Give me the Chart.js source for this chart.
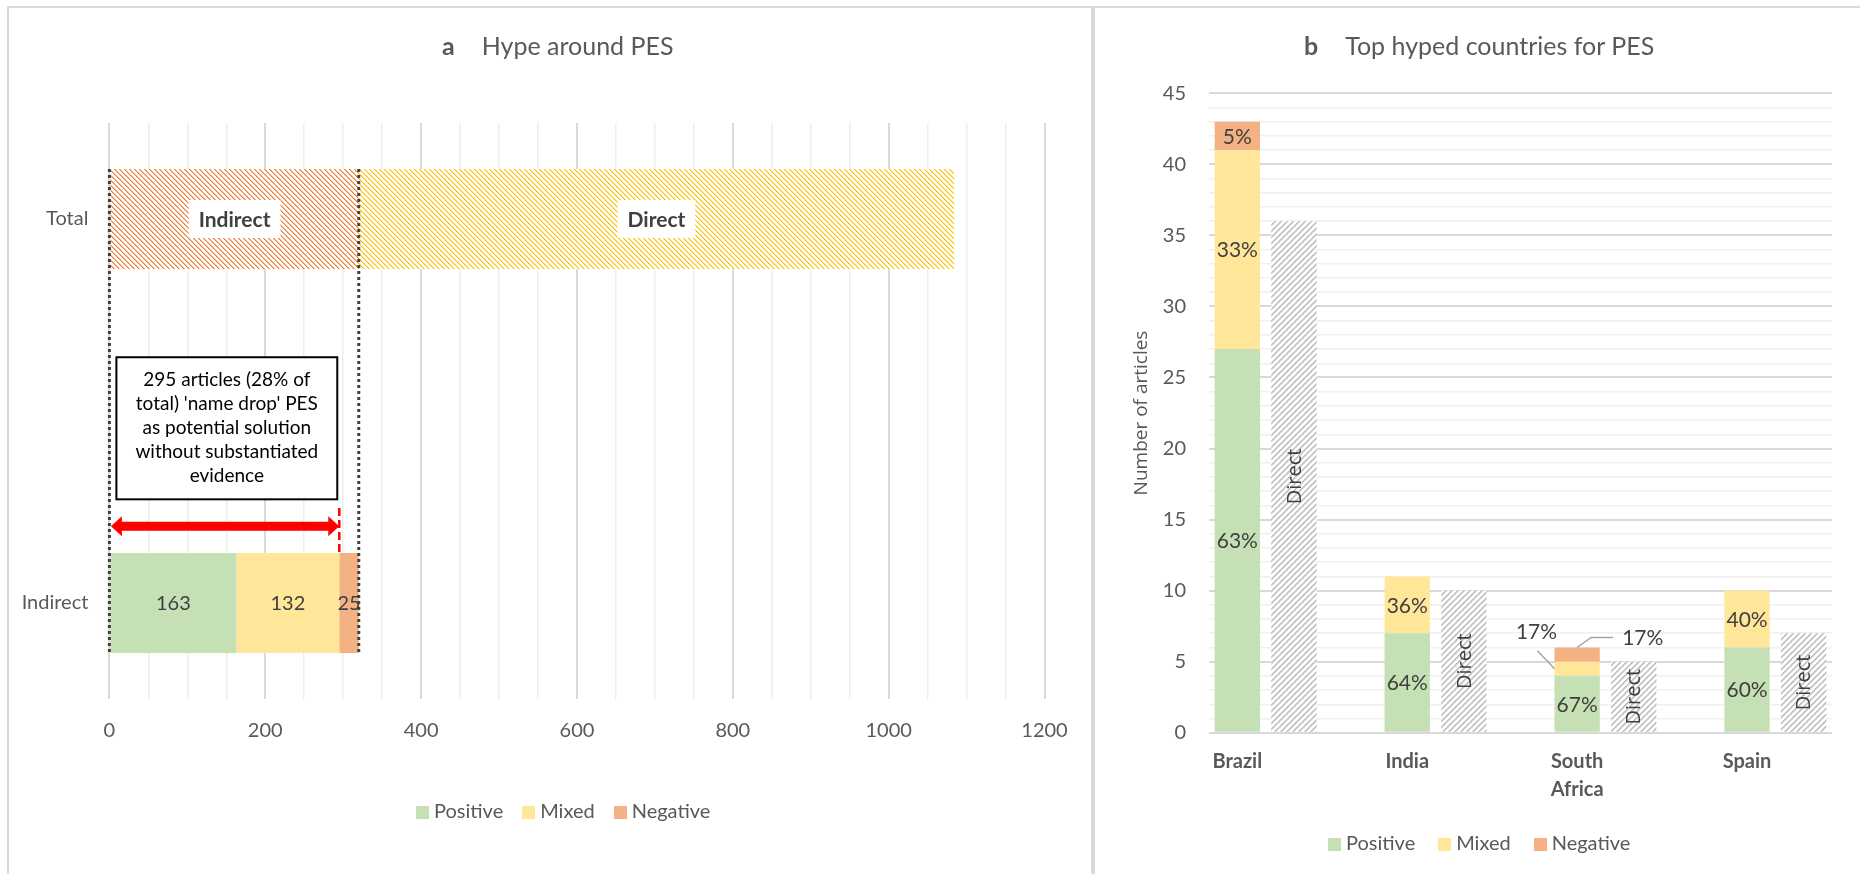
<!DOCTYPE html>
<html>
<head>
<meta charset="utf-8">
<script src="https://cdn.jsdelivr.net/npm/chart.js@4.4.1/dist/chart.umd.min.js"></script>
<style>
  html, body { margin: 0; padding: 0; background: #fff; }
  body { width: 1860px; height: 874px; position: relative; overflow: hidden; font-family: Lato, sans-serif; color: #595959; }
  .panel { position: absolute; top: 6px; height: 900px; border: 2px solid #DADADA; box-sizing: border-box; background: #fff; }
  #panelA { left: 7px; width: 1086px; }
  #panelB { left: 1093px; width: 800px; }
  canvas { position: absolute; top: 0; }
  #chartA { left: 0; }
  #chartB { left: 1093px; }
  .title { position: absolute; top: 30px; font-size: 25px; line-height: 30px; white-space: nowrap; }
  .title b { margin-right: 27px; }
  .legend { position: absolute; font-size: 20px; line-height: 24px; white-space: nowrap; }
  .legend span { display: inline-block; }
  .legend i { display: inline-block; width: 13px; height: 13px; margin-right: 5px; vertical-align: -1px; }
</style>
</head>
<body>
<div class="panel" id="panelA"></div>
<div class="panel" id="panelB"></div>
<canvas id="chartA" width="1092" height="874"></canvas>
<canvas id="chartB" width="767" height="874"></canvas>
<div class="title" style="left:442px"><b>a</b>Hype around PES</div>
<div class="title" style="left:1304px"><b>b</b>Top hyped countries for PES</div>
<div class="legend" id="legendA" style="left:416px; top:798px"></div>
<div class="legend" id="legendB" style="left:1328px; top:830px"></div>

<script>
// ---- panel a data ----
const sentimentNames = ['Positive', 'Mixed', 'Negative'];
const hypeRows = ['Total', '', 'Indirect'];
const indirectBySentiment = [163, 132, 25];
const totalSplitNames = ['Indirect', 'Direct'];
const totalSplit = [320, 764];
const nameDropCount = 295;
const nameDropNote = [
    "295 articles (28% of",
    "total) 'name drop' PES",
    "as potential solution",
    "without substantiated",
    "evidence"
];

// ---- panel b data ----
const countries = ['Brazil', 'India', ['South', 'Africa'], 'Spain'];
const countryPositive = [27, 7, 4, 6];
const countryMixed = [14, 4, 1, 4];
const countryNegative = [2, 0, 1, 0];
const countryDirect = [36, 10, 5, 7];

const sentimentColors = ['#C5E0B4', '#FFE699', '#F4B183'];
const labelColor = '#404040';

Chart.defaults.font.family = 'Lato';
Chart.defaults.color = '#595959';

// diagonal hatch fill, like the Excel pattern fills
// stripe = colours of the pixels across one stripe, rest of the tile is white
function hatch(ctx, stripe, size, upward) {
    const c = document.createElement('canvas');
    c.width = c.height = size;
    const g = c.getContext('2d');
    g.fillStyle = '#fff';
    g.fillRect(0, 0, size, size);
    for (let py = 0; py < size; py++) {
        for (let px = 0; px < size; px++) {
            const k = upward ? (px + py) % size : ((px - py) % size + size) % size;
            if (k < stripe.length) {
                g.fillStyle = stripe[k];
                g.fillRect(px, py, 1, 1);
            }
        }
    }
    return ctx.createPattern(c, 'repeat');
}

function buildLegend(id, gap) {
    const el = document.getElementById(id);
    el.innerHTML = sentimentNames.map((n, i) =>
        `<span style="margin-right:${i < sentimentNames.length - 1 ? gap : 0}px"><i style="background:${sentimentColors[i]}"></i>${n}</span>`
    ).join('');
}
buildLegend('legendA', 19);
buildLegend('legendB', 23);

// ---------- panel a ----------
const hypeAnnotations = {
    id: 'hypeAnnotations',
    afterDatasetsDraw(chart) {
        const { ctx, scales: { x, y } } = chart;
        ctx.save();
        ctx.textAlign = 'center';
        ctx.textBaseline = 'middle';

        // counts on the Indirect bar
        ctx.font = '20px Lato';
        ctx.fillStyle = labelColor;
        sentimentNames.forEach((n, i) => {
            const p = chart.getDatasetMeta(i).data[2].getCenterPoint();
            ctx.fillText(String(indirectBySentiment[i]), p.x, p.y + 1);
        });

        // boxed names on the Total bar
        ctx.font = 'bold 21px Lato';
        totalSplitNames.forEach((n, i) => {
            const p = chart.getDatasetMeta(3 + i).data[0].getCenterPoint();
            const w = ctx.measureText(n).width + 20;
            ctx.fillStyle = '#fff';
            ctx.fillRect(p.x - w / 2, p.y - 19, w, 38);
            ctx.fillStyle = labelColor;
            ctx.fillText(n, p.x, p.y + 1);
        });

        // dotted guides from Total down to Indirect
        const totalEl = chart.getDatasetMeta(3).data[0];
        const indEl = chart.getDatasetMeta(0).data[2];
        const top = totalEl.y - totalEl.height / 2;
        const bottom = indEl.y + indEl.height / 2;
        ctx.strokeStyle = '#404040';
        ctx.lineWidth = 3;
        ctx.setLineDash([3, 3]);
        [0, totalSplit[0]].forEach(v => {
            const px = x.getPixelForValue(v);
            ctx.beginPath();
            ctx.moveTo(px, top);
            ctx.lineTo(px, bottom);
            ctx.stroke();
        });

        // note box
        const x0 = x.getPixelForValue(0);
        const xDrop = x.getPixelForValue(nameDropCount);
        const boxL = x0 + 7, boxR = xDrop - 2;
        const boxT = y.getPixelForValue(0.72), boxB = y.getPixelForValue(1.46);
        ctx.setLineDash([]);
        ctx.fillStyle = '#fff';
        ctx.fillRect(boxL, boxT, boxR - boxL, boxB - boxT);
        ctx.strokeStyle = '#000';
        ctx.lineWidth = 2;
        ctx.strokeRect(boxL, boxT, boxR - boxL, boxB - boxT);
        ctx.fillStyle = '#000';
        ctx.font = '19px Lato';
        const lineH = 24;
        const midY = (boxT + boxB) / 2;
        nameDropNote.forEach((t, i) => {
            ctx.fillText(t, (boxL + boxR) / 2, midY + (i - (nameDropNote.length - 1) / 2) * lineH);
        });

        // red double arrow 0 .. 295
        const ya = y.getPixelForValue(1.6);
        const xa = x0 + 1.5, xb = xDrop;
        const hl = 11, hh = 10, st = 4.5;
        ctx.fillStyle = '#FF0000';
        ctx.beginPath();
        ctx.moveTo(xa, ya);
        ctx.lineTo(xa + hl, ya - hh);
        ctx.lineTo(xa + hl, ya - st);
        ctx.lineTo(xb - hl, ya - st);
        ctx.lineTo(xb - hl, ya - hh);
        ctx.lineTo(xb, ya);
        ctx.lineTo(xb - hl, ya + hh);
        ctx.lineTo(xb - hl, ya + st);
        ctx.lineTo(xa + hl, ya + st);
        ctx.lineTo(xa + hl, ya + hh);
        ctx.closePath();
        ctx.fill();

        // red dashed marker at 295
        ctx.strokeStyle = '#FF0000';
        ctx.lineWidth = 2.5;
        ctx.setLineDash([8, 4]);
        ctx.beginPath();
        ctx.moveTo(xDrop, y.getPixelForValue(1.505));
        ctx.lineTo(xDrop, indEl.y - indEl.height / 2);
        ctx.stroke();
        ctx.restore();
    }
};

const ctxA = document.getElementById('chartA').getContext('2d');
const hypeChart = new Chart(ctxA, {
    type: 'bar',
    data: {
        labels: hypeRows,
        datasets: [
            ...sentimentNames.map((name, i) => ({
                label: name,
                data: [null, null, indirectBySentiment[i]],
                backgroundColor: sentimentColors[i]
            })),
            {
                label: totalSplitNames[0],
                data: [totalSplit[0], null, null],
                backgroundColor: hatch(ctxA, ['#ED7D31', '#F7B891'], 5, false)
            },
            {
                label: totalSplitNames[1],
                data: [totalSplit[1], null, null],
                backgroundColor: hatch(ctxA, ['#FFC000', '#FFDF80'], 5, false)
            }
        ]
    },
    options: {
        indexAxis: 'y',
        responsive: false,
        animation: false,
        devicePixelRatio: 1,
        layout: { padding: { left: 0, top: 123, right: 47.5, bottom: 115 } },
        datasets: { bar: { barPercentage: 0.52, categoryPercentage: 1 } },
        plugins: {
            legend: { display: false },
            tooltip: { enabled: false }
        },
        scales: {
            x: {
                type: 'linear',
                stacked: true,
                min: 0,
                max: 1200,
                border: { display: false },
                grid: {
                    drawTicks: false,
                    color: c => c.tick && c.tick.value % 200 === 0 ? '#D9D9D9' : '#EDEDED',
                    lineWidth: c => c.tick && c.tick.value % 200 === 0 ? 2 : 1.5
                },
                ticks: {
                    stepSize: 50,
                    autoSkip: false,
                    maxRotation: 0,
                    padding: 20,
                    font: { size: 20 },
                    callback: v => v % 200 === 0 ? v : ''
                },
                afterFit: s => { s.height = 60; }
            },
            y: {
                stacked: true,
                border: { display: false },
                grid: { display: false, drawTicks: false },
                ticks: { padding: 21, font: { size: 20 } },
                afterFit: s => { s.width = 109.4; }
            }
        }
    },
    plugins: [hypeAnnotations]
});

// ---------- panel b ----------
// each country takes three slots: stacked sentiment bar, Direct bar, gap
const slotCount = countries.length * 3 - 1;
const slotLabels = Array.from({ length: slotCount }, (_, i) => i % 3 === 0 ? countries[i / 3] : '');
function toSlots(values, offset) {
    const out = new Array(slotCount).fill(null);
    values.forEach((v, i) => { out[i * 3 + offset] = v; });
    return out;
}
const sentimentValues = [countryPositive, countryMixed, countryNegative];

const countryLabels = {
    id: 'countryLabels',
    afterDatasetsDraw(chart) {
        const ctx = chart.ctx;
        ctx.save();
        ctx.textAlign = 'center';
        ctx.textBaseline = 'middle';
        ctx.fillStyle = labelColor;
        ctx.strokeStyle = '#A6A6A6';
        ctx.lineWidth = 1.5;
        countries.forEach((c, ci) => {
            const total = sentimentValues.reduce((s, arr) => s + arr[ci], 0);
            sentimentValues.forEach((arr, si) => {
                const v = arr[ci];
                if (!v) return;
                const el = chart.getDatasetMeta(si).data[ci * 3];
                const label = Math.round(v / total * 100) + '%';
                const segH = Math.abs(el.base - el.y);
                const cx = el.x, cy = (el.y + el.base) / 2;
                ctx.font = '21px Lato';
                if (segH >= 24) {
                    ctx.fillText(label, cx, cy + 1);
                } else if (si === 1) {
                    const lx = el.x - el.width / 2;
                    ctx.beginPath();
                    ctx.moveTo(lx, cy);
                    ctx.lineTo(lx - 17, cy - 18);
                    ctx.stroke();
                    ctx.fillText(label, lx - 18, cy - 37);
                } else {
                    ctx.beginPath();
                    ctx.moveTo(cx, el.y);
                    ctx.lineTo(cx + 14, el.y - 10);
                    ctx.lineTo(cx + 36, el.y - 10);
                    ctx.stroke();
                    ctx.textAlign = 'left';
                    ctx.fillText(label, cx + 45, el.y - 9);
                    ctx.textAlign = 'center';
                }
            });
            const d = chart.getDatasetMeta(3).data[ci * 3 + 1];
            const p = d.getCenterPoint();
            ctx.save();
            ctx.translate(p.x, p.y);
            ctx.rotate(-Math.PI / 2);
            ctx.font = '20px "Open Sans"';
            ctx.fillText('Direct', 0, 1);
            ctx.restore();
        });
        ctx.restore();
    }
};

const ctxB = document.getElementById('chartB').getContext('2d');
const countryChart = new Chart(ctxB, {
    type: 'bar',
    data: {
        labels: slotLabels,
        datasets: [
            ...sentimentNames.map((name, i) => ({
                label: name,
                data: toSlots(sentimentValues[i], 0),
                backgroundColor: sentimentColors[i]
            })),
            {
                label: 'Direct',
                data: toSlots(countryDirect, 1),
                backgroundColor: hatch(ctxB, ['#BDBDBD', '#C9C9C9', '#E4E4E4'], 6, true)
            }
        ]
    },
    options: {
        responsive: false,
        animation: false,
        devicePixelRatio: 1,
        layout: { padding: { left: 0, top: 93.3, right: 28, bottom: 61.3 } },
        datasets: { bar: { barPercentage: 0.8, categoryPercentage: 1 } },
        plugins: {
            legend: { display: false },
            tooltip: { enabled: false }
        },
        scales: {
            x: {
                stacked: true,
                border: { display: false },
                grid: { display: false, drawTicks: false },
                ticks: {
                    autoSkip: false,
                    maxRotation: 0,
                    padding: 15,
                    font: { size: 20, weight: 'bold', lineHeight: 1.4 }
                },
                afterFit: s => { s.height = 80; }
            },
            y: {
                stacked: true,
                min: 0,
                max: 45,
                border: { display: false },
                grid: {
                    drawTicks: false,
                    color: c => c.tick && c.tick.value % 5 === 0 ? '#D9D9D9' : '#F0F0F0',
                    lineWidth: c => c.tick && c.tick.value % 5 === 0 ? 2 : 1.5
                },
                ticks: {
                    stepSize: 1,
                    autoSkip: false,
                    padding: 23,
                    font: { size: 20 },
                    callback: v => v % 5 === 0 ? v : ''
                },
                title: {
                    display: true,
                    text: 'Number of articles',
                    font: { family: 'Open Sans', size: 19 },
                    padding: { top: 37, bottom: 0 }
                },
                afterFit: s => { s.width = 116; }
            }
        }
    },
    plugins: [countryLabels]
});
</script>
</body>
</html>
